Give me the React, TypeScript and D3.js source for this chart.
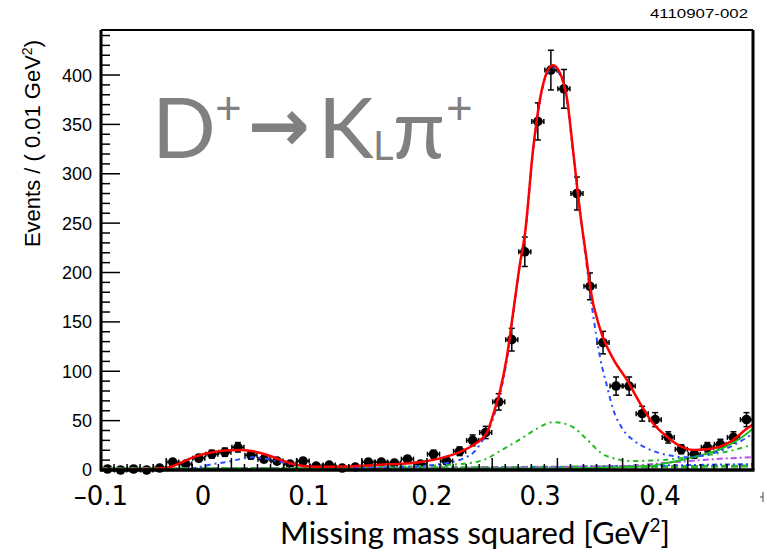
import React from "react";
import * as d3 from "d3";

// ---- data ----
const binWidth = 0.01;
const binCenters = d3.range(0, 50).map((i) => -0.095 + binWidth * i);
const counts = [
  1, 0, 1, 0, 2, 8, 6, 12, 16, 18,
  23, 15, 11, 9, 6, 9, 4, 5, 2, 3,
  8, 8, 7, 11, 6, 16, 9, 19, 30, 38,
  69, 132, 221, 353, 405, 386, 280, 186, 129, 85,
  85, 57, 51, 33, 21, 16, 23, 26, 33, 51,
];
const errors = [
  1, 0, 1, 0, 1.4, 2.8, 2.4, 3.5, 4, 4.2,
  4.8, 3.9, 3.3, 3, 2.4, 3, 2, 2.2, 1.4, 1.7,
  2.8, 2.8, 2.6, 3.3, 2.4, 4, 3, 4.4, 5.5, 6.2,
  8.3, 11.5, 14.9, 18.8, 20.1, 19.6, 16.7, 13.6, 11.4, 9.2,
  9.2, 7.5, 7.1, 5.7, 4.6, 4, 4.8, 5.1, 5.7, 7.1,
];

const totalFit: [number, number][] = [
  [-0.1, 0.3], [-0.0778, 0.5], [-0.0586, 1], [-0.0471, 3], [-0.041, 6], [-0.0279, 13.5],
  [-0.0149, 18], [-0.0049, 19.8], [0.0066, 20.3], [0.0143, 19.5], [0.0281, 15], [0.0373, 10.5],
  [0.0488, 5.5], [0.0603, 3.5], [0.0702, 3.2], [0.0871, 3.5], [0.0963, 4], [0.1216, 5.7],
  [0.1469, 8.4], [0.16, 11.8], [0.173, 17], [0.1853, 25], [0.1906, 30], [0.196, 38],
  [0.2021, 62], [0.206, 80], [0.2113, 115], [0.216, 159], [0.2213, 209], [0.2252, 240],
  [0.2313, 324], [0.2367, 376], [0.242, 403], [0.2466, 410], [0.252, 402], [0.2574, 376],
  [0.262, 324], [0.2673, 262], [0.2727, 210], [0.275, 186], [0.2827, 143], [0.2926, 113],
  [0.3034, 91], [0.3134, 67.5], [0.3233, 47.3], [0.334, 33.7], [0.344, 24.3], [0.354, 20.3],
  [0.3647, 21], [0.3747, 23.6], [0.3847, 30.4], [0.3954, 42], [0.4, 46],
];
const signalFit: [number, number][] = [
  [-0.1, 0], [-0.0394, 0.7], [-0.0264, 2.5], [-0.0141, 6], [-0.0026, 8.4], [0.0066, 11],
  [0.0158, 12.8], [0.0235, 12], [0.0334, 9.4], [0.0434, 6.7], [0.0526, 4.5], [0.0679, 2.5],
  [0.0909, 2], [0.1293, 3], [0.16, 6], [0.183, 15], [0.1906, 26], [0.2021, 58],
  [0.2113, 112], [0.216, 157], [0.2213, 207], [0.2252, 238], [0.2313, 322], [0.2367, 374],
  [0.242, 401], [0.2466, 407], [0.252, 400], [0.2574, 373], [0.262, 322], [0.2673, 262],
  [0.2727, 205], [0.2773, 158], [0.2827, 114], [0.288, 85], [0.2926, 62], [0.3003, 41],
  [0.308, 30.4], [0.3187, 22], [0.3287, 17], [0.3387, 14.2], [0.3494, 12.8], [0.3594, 14.2],
  [0.3693, 17], [0.3801, 22], [0.39, 28.7], [0.4, 37],
];
const peakingBkg: [number, number][] = [
  [-0.1, 1.5], [0.0526, 2], [0.1446, 4], [0.1753, 6], [0.1929, 10], [0.2083, 21],
  [0.2213, 31], [0.2344, 42], [0.2466, 48.5], [0.2597, 45], [0.2727, 31], [0.2827, 18],
  [0.2957, 11], [0.308, 9], [0.321, 9.5], [0.334, 10.5], [0.3494, 12.5], [0.367, 15.5],
  [0.3847, 20], [0.4, 26],
];
const risingBkg: [number, number][] = [
  [-0.1, 1], [0.25, 1.5], [0.32, 4], [0.334, 7], [0.354, 13], [0.3747, 21], [0.3954, 37], [0.4, 42],
];
const purpleBkg: [number, number][] = [
  [-0.1, 1.5], [0.2, 2.5], [0.3, 4], [0.34, 8], [0.37, 11], [0.4, 13],
];
const blueLowBkg: [number, number][] = [
  [-0.1, 0.5], [0.2, 2], [0.3, 4], [0.4, 6],
];
const greenLowBkg: [number, number][] = [
  [-0.1, 1], [0.2, 2.5], [0.4, 4],
];

const yTickValues = [0, 50, 100, 150, 200, 250, 300, 350, 400];
const xTickLabels = ["\u20130.1", "0", "0.1", "0.2", "0.3", "0.4"];
const xTickLabelPos = [-0.1, -0.0218, 0.0595, 0.1538, 0.2367, 0.3287];

// ---- layout ----
const W = 767;
const H = 552;
const L = 101, R = 753, T = 30, B = 470;

export default function App() {
  const x = d3.scaleLinear().domain([-0.1, 0.4]).range([L, R]);
  const y = d3.scaleLinear().domain([0, 445.6]).range([B, T]);
  const line = d3
    .line<[number, number]>()
    .x((d) => x(d[0]))
    .y((d) => y(d[1]))
    .curve(d3.curveMonotoneX);

  const yMinor = d3.range(0, 446, 10);
  const xMinor = d3.range(0, 51).map((i) => -0.1 + i * 0.01);

  return (
    <svg
      width={W}
      height={H}
      style={{ position: "absolute", left: 0, top: 0, background: "#fff" }}
    >
      <rect x={0} y={0} width={W} height={H} fill="#fff" />
      <defs>
        <clipPath id="plotClip">
          <rect x={L} y={T} width={R - L} height={B - T} />
        </clipPath>
      </defs>

      {/* run number */}
      <text
        x={650}
        y={18}
        fontFamily="Liberation Sans, Arial, sans-serif"
        fontSize={13}
        textLength={98}
        lengthAdjust="spacingAndGlyphs"
        fill="#000"
      >
        4110907-002
      </text>

      {/* data points */}
      <g stroke="#000" strokeWidth={1.5} fill="#000">
        {binCenters.map((c, i) => {
          const v = counts[i];
          const e = errors[i];
          const cx = x(c);
          const cy = y(v);
          const hx = (x(binWidth) - x(0)) / 2 - 0.5;
          return (
            <g key={i}>
              {e > 0 && (
                <>
                  <line x1={cx} x2={cx} y1={y(Math.max(0, v - e))} y2={y(v + e)} />
                  <line x1={cx - 3} x2={cx + 3} y1={y(v + e)} y2={y(v + e)} />
                  <line x1={cx - 3} x2={cx + 3} y1={y(Math.max(0, v - e))} y2={y(Math.max(0, v - e))} />
                </>
              )}
              <line x1={cx - hx} x2={cx + hx} y1={cy} y2={cy} />
              <line x1={cx - hx} x2={cx - hx} y1={cy - 2.5} y2={cy + 2.5} />
              <line x1={cx + hx} x2={cx + hx} y1={cy - 2.5} y2={cy + 2.5} />
              <circle cx={cx} cy={cy} r={4.8} stroke="none" />
            </g>
          );
        })}
      </g>

      {/* fit curves */}
      <g clipPath="url(#plotClip)" fill="none">
        <path d={line(greenLowBkg) || ""} stroke="#22bb22" strokeWidth={3} strokeDasharray="7,3" />
        <path d={line(blueLowBkg) || ""} stroke="#2a4bff" strokeWidth={2} strokeDasharray="5,3,2,3" />
        <path d={line(purpleBkg) || ""} stroke="#b74ef0" strokeWidth={2} strokeDasharray="6,3,2,3" />
        <path d={line(risingBkg) || ""} stroke="#22bb22" strokeWidth={2} />
        <path d={line(peakingBkg) || ""} stroke="#22bb22" strokeWidth={2} strokeDasharray="5,4,2,4" />
        <path d={line(signalFit) || ""} stroke="#2a4bff" strokeWidth={2} strokeDasharray="5,4,2,4" />
        <path d={line(totalFit) || ""} stroke="#ff0000" strokeWidth={2.5} />
      </g>

      {/* ticks */}
      <g stroke="#000" strokeWidth={1.5}>
        {yMinor.map((v) => (
          <line key={"ym" + v} x1={L} x2={L + (v % 50 === 0 ? 19 : 9)} y1={y(v)} y2={y(v)} />
        ))}
        {xMinor.map((v, i) => (
          <line key={"xm" + i} x1={x(v)} x2={x(v)} y1={B} y2={B - (i % 5 === 0 ? 12 : 6)} />
        ))}
      </g>

      {/* frame */}
      <line x1={L} x2={R} y1={T} y2={T} stroke="#000" strokeWidth={2} />
      <line x1={R} x2={R} y1={T} y2={B} stroke="#000" strokeWidth={3} />
      <line x1={L} x2={L} y1={T} y2={B + 1} stroke="#000" strokeWidth={3} />
      <line x1={L - 1} x2={R + 1.5} y1={B} y2={B} stroke="#000" strokeWidth={3.5} />

      {/* y tick labels */}
      <g fontFamily="Liberation Sans, Arial, sans-serif" fontSize={18} textAnchor="end" fill="#000">
        {yTickValues.map((v) => (
          <text key={v} x={92} y={y(v)} dy="0.36em">
            {v}
          </text>
        ))}
      </g>

      {/* y title */}
      <text
        transform={`translate(40, 40) rotate(-90)`}
        fontFamily="Liberation Sans, Arial, sans-serif"
        fontSize={22}
        textAnchor="end"
        fill="#000"
      >
        Events / ( 0.01 GeV
        <tspan dy={-8} fontSize={14}>2</tspan>
        <tspan dy={8}>)</tspan>
      </text>

      {/* x tick labels */}
      <g fontFamily="DejaVu Sans, sans-serif" fontSize={26} textAnchor="middle" fill="#000">
        {xTickLabels.map((t, i) => (
          <text key={t} x={x(xTickLabelPos[i])} y={505}>
            {t}
          </text>
        ))}
      </g>

      {/* small stray mark right of the axis labels */}
      <g stroke="#444" strokeWidth={1}>
        <line x1={763} x2={763} y1={492} y2={502} />
        <line x1={760} x2={763} y1={497} y2={497} />
      </g>

      {/* x title */}
      <text
        x={475}
        y={544}
        fontFamily="Lato, 'Open Sans', sans-serif"
        fontSize={31}
        textAnchor="middle"
        fill="#000"
      >
        Missing mass squared [GeV
        <tspan dy={-12} fontSize={19}>2</tspan>
        <tspan dy={12}>]</tspan>
      </text>

      {/* decay label */}
      <g fill="#808080" fontFamily="Lato, 'Open Sans', 'DejaVu Sans', sans-serif">
        <text x={152} y={158} fontSize={84}>D</text>
        <text x={215} y={124} fontSize={46}>+</text>
        <text x={248} y={151} fontSize={74} fontWeight="bold" fontFamily="DejaVu Sans, sans-serif">{"\u2192"}</text>
        <text x={318} y={158} fontSize={84}>K</text>
        <text x={373} y={160} fontSize={40}>L</text>
        <text x={393} y={158} fontSize={84}>{"\u03c0"}</text>
        <text x={446} y={124} fontSize={46}>+</text>
      </g>
    </svg>
  );
}
